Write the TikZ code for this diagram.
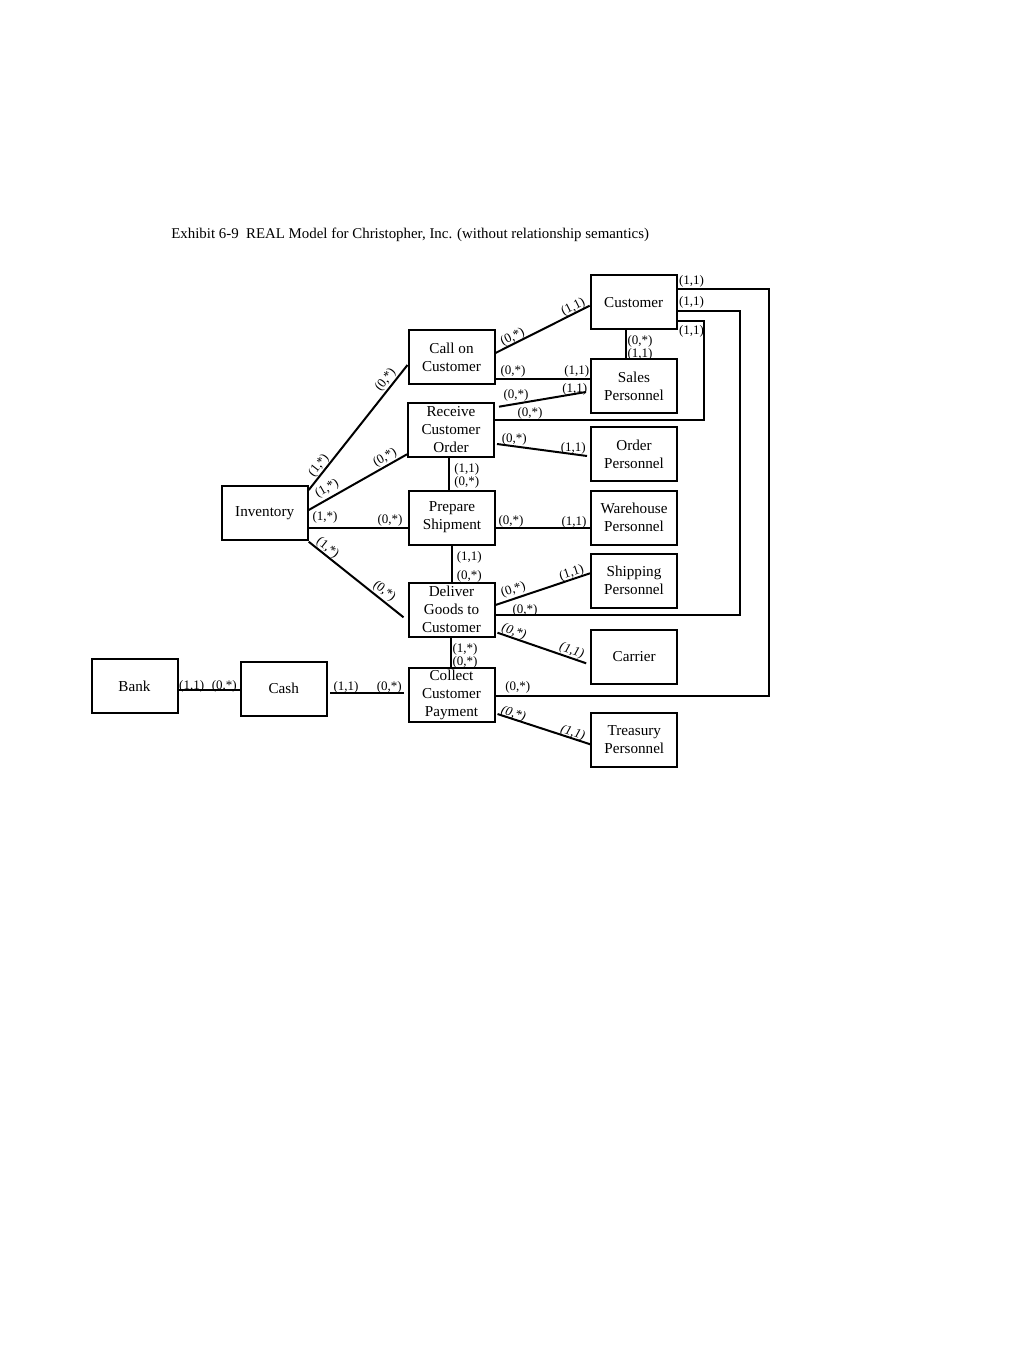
\documentclass[tikz,border=0pt]{standalone}
\usepackage{fontspec}
\setmainfont{Liberation Serif}
\begin{document}
\begin{tikzpicture}[x=0.6pt,y=-0.6pt,
  box/.style={draw,line width=1.2pt,minimum width=51.6pt,minimum height=32.4pt,inner sep=0pt,align=center,font=\fontsize{9.1}{10.8}\selectfont},
  lab/.style={inner sep=0pt,font=\fontsize{7.8}{9}\selectfont},
  ilab/.style={lab,font=\fontsize{7.8}{9}\selectfont\itshape},
  conn/.style={line width=1.2pt}]
\path[use as bounding box,fill=white] (0,0) rectangle (1024,1365);

\node[inner sep=0pt,anchor=west,font=\fontsize{8.93}{11}\selectfont] (title) at (171,235) {Exhibit 6-9\ \ REAL Model for Christopher, Inc. (without relationship semantics)};

% boxes
\node[box] (cust) at (633.7,302.3) {Customer};
\node[box] (sales) at (634,386) {Sales\\Personnel};
\node[box] (call) at (451.5,357.3) {Call on\\Customer};
\node[box] (recv) at (451,430) {Receive\\Customer\\Order};
\node[box] (order) at (634,454) {Order\\Personnel};
\node[box] (inv) at (264.7,513.3) {Inventory};
\node[box] (prep) at (452,517.5) {Prepare\\Shipment};
\node[box] (ware) at (634,517.5) {Warehouse\\Personnel};
\node[box] (ship) at (634,580.8) {Shipping\\Personnel};
\node[box] (deliv) at (451.5,609.7) {Deliver\\Goods to\\Customer};
\node[box] (carrier) at (634.2,656.5) {Carrier};
\node[box] (collect) at (451.5,695.3) {Collect\\Customer\\Payment};
\node[box] (treas) at (634.3,739.7) {Treasury\\Personnel};
\node[box] (cash) at (283.7,688.7) {Cash};
\node[box] (bank) at (134.5,686.3) {Bank};

% frame corners
\coordinate (fa) at (769,289);
\coordinate (fb) at (769,696);
\coordinate (ga) at (740,311);
\coordinate (gb) at (740,615);
\coordinate (ha) at (704.3,320.7);
\coordinate (hb) at (704.3,420);

\draw[conn] (cust.east |- fa) -- (fa) -- (fb) -- (collect.east |- fb);
\draw[conn] (cust.east |- ga) -- (ga) -- (gb) -- (deliv.east |- gb);
\draw[conn] (cust.east |- ha) -- (ha) -- (hb) -- (recv.east |- hb);

% connectors
\draw[conn] (cust.south -| 625.7,0) -- (sales.north -| 625.7,0);
\draw[conn] (call.east |- 0,353) -- (cust.west |- 0,305.7);
\draw[conn] (call.east |- 0,379) -- (sales.west |- 0,379);
\draw[conn] (recv.east |- 0,406.7) ++(4,0) -- ([xshift=-2.4pt]sales.west |- 0,392);
\draw[conn] (recv.east |- 0,444) ++(2,0) -- ([xshift=-1.8pt]order.west |- 0,456);
\draw[conn] (recv.south -| 449,0) -- (prep.north -| 449,0);
\draw[conn] (inv.east |- 0,490) -- (call.west |- 0,365);
\draw[conn] (inv.east |- 0,510) -- (recv.west |- 0,454.3);
\draw[conn] (inv.east |- 0,527.7) -- (prep.west |- 0,527.7);
\draw[conn] (inv.east |- 0,541.7) -- ([xshift=-2.4pt]deliv.west |- 0,617.3);
\draw[conn] (prep.east |- 0,528.3) -- (ware.west |- 0,528.3);
\draw[conn] (prep.south -| 451.7,0) -- (deliv.north -| 451.7,0);
\draw[conn] (deliv.east |- 0,605) -- (ship.west |- 0,573.3);
\draw[conn] (deliv.east |- 0,632.7) ++(2,0) -- ([xshift=-2.4pt]carrier.west |- 0,663.3);
\draw[conn] (deliv.south -| 451,0) -- (collect.north -| 451,0);
\draw[conn] (collect.east |- 0,714) ++(2,0) -- (treas.west |- 0,744.3);
\draw[conn] ([xshift=1.6pt]cash.east |- 0,692.7) -- ([xshift=-2.4pt]collect.west |- 0,692.7);
\draw[conn] (bank.east |- 0,690) -- (cash.west |- 0,690);

% labels
\node[lab] (l1) at (691.5,281) {(1,1)};
\node[lab] (l2) at (691.5,302) {(1,1)};
\node[lab] (l3) at (691.5,331) {(1,1)};
\node[lab] (l4) at (640,341) {(0,*)};
\node[lab] (l5) at (640,354) {(1,1)};
\node[lab,rotate=26.7] (l6) at (512.7,337.5) {(0,*)};
\node[lab,rotate=26.7] (l7) at (573.3,307.5) {(1,1)};
\node[lab] (l8) at (513,371.7) {(0,*)};
\node[lab] (l9) at (576.7,371.7) {(1,1)};
\node[lab] (l10) at (516,395.7) {(0,*)};
\node[lab] (l11) at (574.7,389.3) {(1,1)};
\node[lab] (l12) at (530,413.3) {(0,*)};
\node[lab] (l13) at (514.3,439) {(0,*)};
\node[lab] (l14) at (573.3,448.3) {(1,1)};
\node[lab] (l15) at (466.7,469.3) {(1,1)};
\node[lab] (l16) at (466.7,482.7) {(0,*)};
\node[lab,rotate=52] (l17) at (319,465.5) {(1,*)};
\node[lab,rotate=52] (l18) at (385.7,380) {(0,*)};
\node[lab,rotate=29.8] (l19) at (327,489) {(1,*)};
\node[lab,rotate=29.8] (l20) at (385,458) {(0,*)};
\node[lab] (l21) at (325,517.3) {(1,*)};
\node[lab] (l22) at (390,520.7) {(0,*)};
\node[lab,rotate=-38.5] (l23) at (327.5,548) {(1,*)};
\node[lab,rotate=-38.5] (l24) at (384.3,591.3) {(0,*)};
\node[lab] (l25) at (511,521.7) {(0,*)};
\node[lab] (l26) at (574,522.3) {(1,1)};
\node[lab] (l27) at (469.3,557.7) {(1,1)};
\node[lab] (l28) at (469.3,576) {(0,*)};
\node[lab,rotate=18.5] (l29) at (513.3,590) {(0,*)};
\node[lab,rotate=18.5] (l30) at (571.7,573.3) {(1,1)};
\node[lab] (l31) at (525,610.7) {(0,*)};
\node[ilab,rotate=-18.6] (l32) at (514,631.7) {(0,*)};
\node[ilab,rotate=-18.6] (l33) at (571.7,650.7) {(1,1)};
\node[lab] (l34) at (465,649.3) {(1,*)};
\node[lab] (l35) at (465,662.7) {(0,*)};
\node[lab] (l36) at (517.7,687.7) {(0,*)};
\node[ilab,rotate=-18] (l37) at (513.3,714) {(0,*)};
\node[ilab,rotate=-18] (l38) at (572.7,733.3) {(1,1)};
\node[lab] (l39) at (346,687.3) {(1,1)};
\node[lab] (l40) at (389.3,687.3) {(0,*)};
\node[lab] (l41) at (191.7,686.7) {(1,1)};
\node[lab] (l42) at (224.3,686.7) {(0,*)};
\end{tikzpicture}
\end{document}
